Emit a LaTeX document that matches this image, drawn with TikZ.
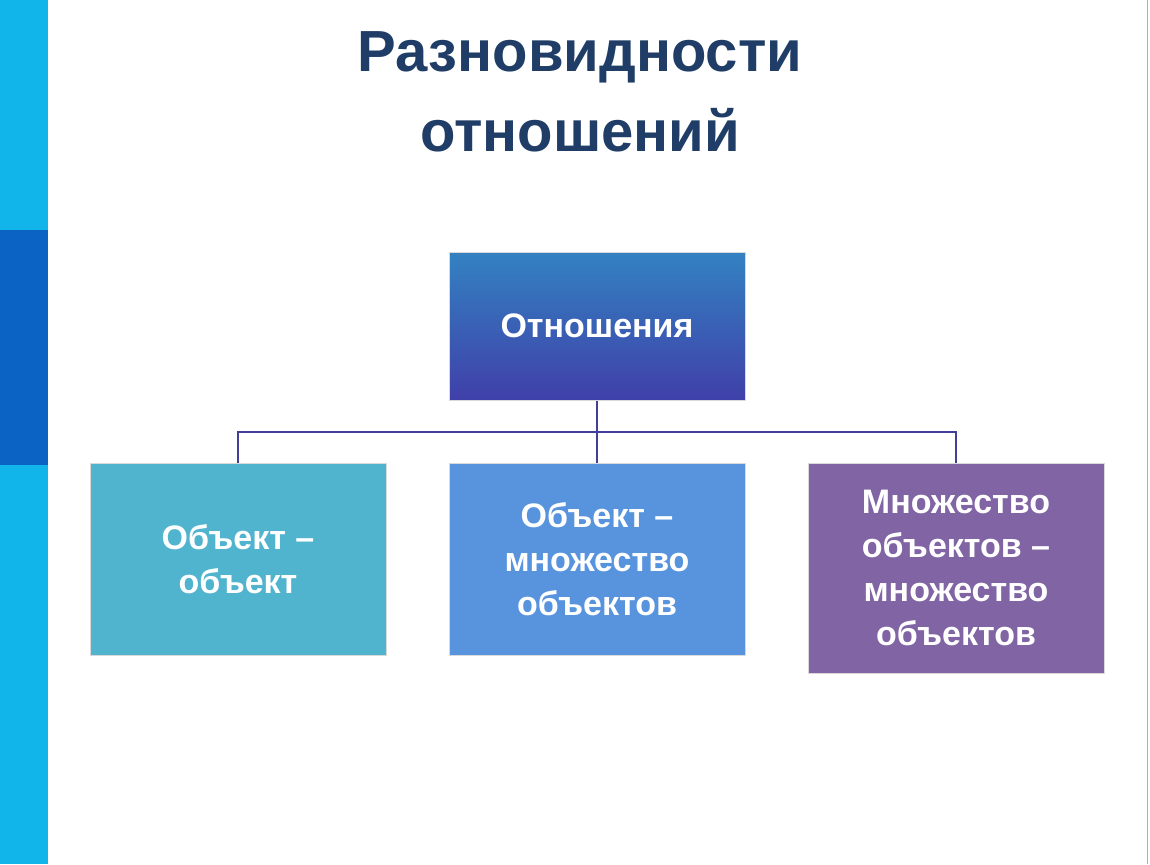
\documentclass[tikz,border=0pt]{standalone}
\usepackage{fontspec}
\setmainfont{Liberation Sans}
\begin{document}
\begin{tikzpicture}[x=1pt,y=-1pt,
  box/.style={draw=white!70!gray,line width=1pt,minimum width=296pt,text=white,font=\fontsize{34}{44}\selectfont\bfseries,align=center,inner sep=0pt},
  conn/.style={draw=black!30!blue!50!gray,line width=2pt}]
\definecolor{tit}{HTML}{1F3D66}
\definecolor{cyanbar}{HTML}{12B5EA}
\definecolor{darkbar}{HTML}{0B63C4}
\useasboundingbox (0,0) rectangle (1150,864);
\fill[white] (0,0) rectangle (1150,864);
\fill[cyanbar] (0,0) rectangle (48,864);
\fill[darkbar] (0,230) rectangle (48,465);
\draw[gray!60,line width=1pt] (1147,0) -- (1147,864);
\node[font=\fontsize{58}{80}\selectfont\bfseries,text=tit,align=center] (t) at (580,92) {Разновидности\\отношений};
\node[box,minimum height=148pt,top color=blue!45!cyan!70!black!80,bottom color=blue!55!black!75!white,fill=blue!50!gray] (r) at (597,326) {Отношения};
\node[box,minimum height=192pt,fill={rgb,255:red,80;green,180;blue,206}] (a) at (238,559) {Объект –\\объект};
\node[box,minimum height=192pt,fill={rgb,255:red,88;green,148;blue,222}] (b) at (597,559) {Объект –\\множество\\объектов};
\node[box,minimum height=210pt,fill={rgb,255:red,128;green,100;blue,164}] (c) at (956,568) {Множество\\объектов –\\множество\\объектов};
\coordinate (m) at (597,432);
\draw[conn] (r.south) -- (m);
\draw[conn] (a.north) |- (m) -| (c.north);
\draw[conn] (m) -- (b.north);
\end{tikzpicture}
\end{document}
